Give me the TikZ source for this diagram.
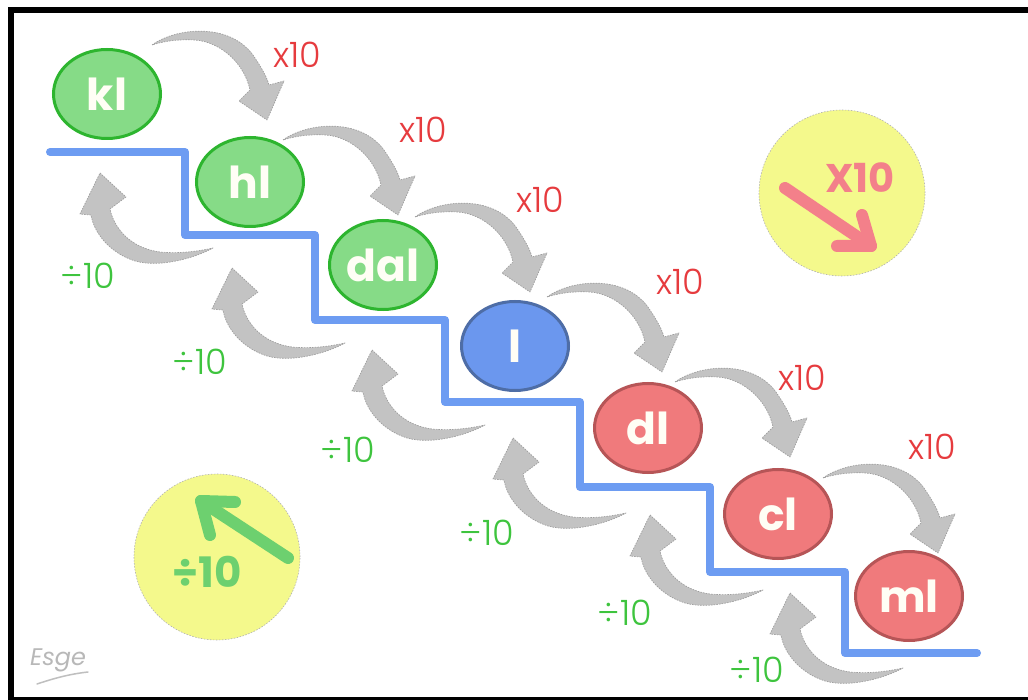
\documentclass[tikz,border=0pt]{standalone}
\usepackage{fontspec}
\setmainfont{Poppins}
\newfontfamily\thinfont{Poppins}[UprightFont={* Light}]
\usetikzlibrary{shapes.geometric,calc}

\definecolor{gfill}{HTML}{86DB87}
\definecolor{gline}{HTML}{2DB52F}
\definecolor{bfill}{HTML}{6B97EE}
\definecolor{bline}{HTML}{4E6DA6}
\definecolor{rfill}{HTML}{F07A7C}
\definecolor{rline}{HTML}{B65557}
\definecolor{stair}{HTML}{6D9CF2}
\definecolor{arrowgrey}{HTML}{C3C3C3}
\definecolor{mulred}{HTML}{E63B3E}
\definecolor{divgreen}{HTML}{3EC43E}
\definecolor{badge}{HTML}{F4F98C}
\definecolor{badgegreen}{HTML}{6DD06F}
\definecolor{badgered}{HTML}{F3808A}

\tikzset{
  unit/.style={ellipse, minimum width=107pt, minimum height=89pt, inner sep=0pt,
    line width=3pt, text=white!96!yellow,
    font=\bfseries\fontsize{44}{44}\selectfont},
  bigunit/.style={unit, fill=gfill, draw=gline},
  baseunit/.style={unit, fill=bfill, draw=bline},
  smallunit/.style={unit, fill=rfill, draw=rline},
  mullabel/.style={text=mulred, font=\thinfont\fontsize{35}{35}\selectfont, inner sep=0pt},
  divlabel/.style={text=divgreen, font=\thinfont\fontsize{35}{35}\selectfont, inner sep=0pt},
  arrowbody/.style={fill=arrowgrey, draw=black!38, line width=0.7pt,
    dash pattern=on 1.5pt off 1.2pt, line join=round},
  badgecircle/.style={circle, fill=badge, draw=black!30, line width=0.6pt,
    dash pattern=on 1.5pt off 1.5pt, minimum size=166pt, inner sep=0pt},
  badgearrow/.style={line width=12pt, line cap=round, line join=round},
  % curved arrow over the top, tip at the origin
  pics/overarrow/.style={code={
    \filldraw[arrowbody] (-115,-75)
      .. controls (-90,-93) and (-35,-98) .. (-12,-62)
      .. controls (-4,-50) and (0,-42) .. (2,-35)
      -- (17,-39) -- (0,0) -- (-28,-19) -- (-17,-30)
      .. controls (-22,-55) and (-45,-78) .. (-72,-80)
      .. controls (-92,-81) and (-106,-78) .. cycle;
  }},
  % curved arrow from below, tip at the origin
  pics/underarrow/.style={code={
    \filldraw[arrowbody] (0,0) -- (26,24) -- (10,36)
      .. controls (14,55) and (30,75) .. (60,79)
      .. controls (80,81) and (100,78) .. (113,75)
      .. controls (95,85) and (60,95) .. (35,88)
      .. controls (10,80) and (-6,60) .. (-9,42)
      -- (-20,41) -- cycle;
  }}
}

\begin{document}
\begin{tikzpicture}[x=1pt, y=-1pt]
\clip (0,0) rectangle (1028,700);
\useasboundingbox (0,0) rectangle (1028,700);
\fill[white] (0,0) rectangle (1028,700);

% frame
\draw[line width=6pt] (1040,10) -- (10.5,10) -- (10.5,700) -- (1040,700);

% staircase
\draw[stair, line width=8pt, line cap=round, line join=round]
  (50,152) -- (185,152) -- (185,235) -- (315,235) -- (315,320) -- (445,320)
  -- (445,402) -- (580,402) -- (580,487) -- (710,487) -- (710,572)
  -- (845,572) -- (845,653) -- (977,653);

% units
\node[bigunit]   (kl)  at (107,94)  {kl};
\node[bigunit]   (hl)  at (250,182) {hl};
\node[bigunit]   (dal) at (383,265) {dal};
\node[baseunit]  (l)   at (515,346) {l};
\node[smallunit] (dl)  at (648,428) {dl};
\node[smallunit] (cl)  at (778,514) {cl};
\node[smallunit] (ml)  at (909,596) {ml};

% arrows going down the stairs
\pic at (267,120) {overarrow};
\pic at (398,215) {overarrow};
\pic at (530,292) {overarrow};
\pic at (662,372) {overarrow};
\pic at (790,457) {overarrow};
\pic at (938,553) {overarrow};

% arrows going up the stairs
\pic at (100,173) {underarrow};
\pic at (232,268) {underarrow};
\pic at (372,350) {underarrow};
\pic at (513,438) {underarrow};
\pic at (650,515) {underarrow};
\pic at (790,593) {underarrow};

% multiply labels
\node[mullabel] (m1) at (297,55)  {x10};
\node[mullabel] (m2) at (423,130) {x10};
\node[mullabel] (m3) at (540,200) {x10};
\node[mullabel] (m4) at (680,282) {x10};
\node[mullabel] (m5) at (802,378) {x10};
\node[mullabel] (m6) at (932,447) {x10};

% divide labels
\node[divlabel] (d1) at (88,276)  {÷10};
\node[divlabel] (d2) at (200,362) {÷10};
\node[divlabel] (d3) at (348,450) {÷10};
\node[divlabel] (d4) at (487,533) {÷10};
\node[divlabel] (d5) at (625,613) {÷10};
\node[divlabel] (d6) at (757,670) {÷10};

% badges
\node[badgecircle] (up) at (217,557) {};
\draw[badgearrow, badgegreen] (288,558) -- (201,501);
\draw[badgearrow, badgegreen] (235,502) -- (201,501) -- (210,535);
\node[text=badgegreen, font=\bfseries\fontsize{42}{42}\selectfont, inner sep=0pt]
  (uptext) at (207,572) {÷10};

\node[badgecircle] (down) at (842,193) {};
\draw[badgearrow, badgered] (785,188) -- (871,246);
\draw[badgearrow, badgered] (837,246) -- (871,246) -- (862,215);
\node[text=badgered, font=\bfseries\fontsize{40}{40}\selectfont, inner sep=0pt]
  (downtext) at (860,178) {X10};

% signature
\node[text=black!28, font=\itshape\fontsize{24}{24}\selectfont, inner sep=0pt]
  (sig) at (58,660) {Esge};
\draw[black!25, line width=1.5pt, line cap=round] (37,684) .. controls (55,678) and (70,674) .. (88,672);
\end{tikzpicture}
\end{document}
